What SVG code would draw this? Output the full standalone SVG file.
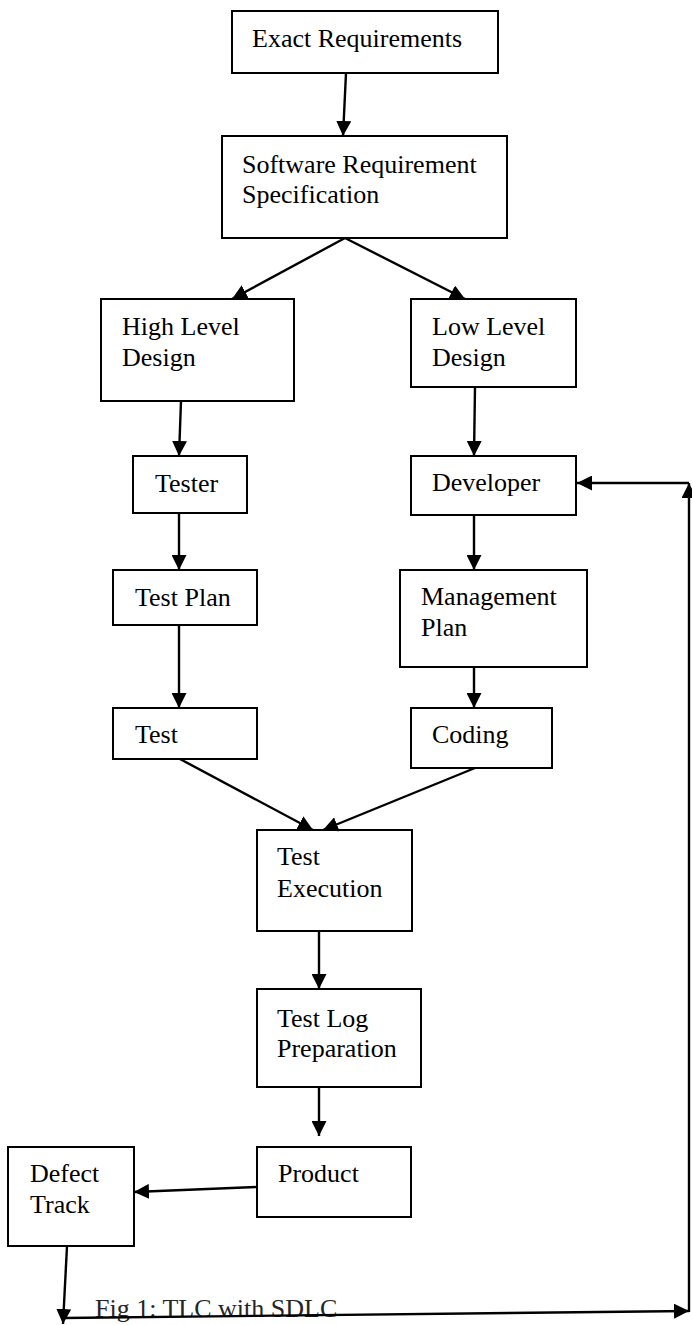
<svg xmlns="http://www.w3.org/2000/svg" width="692" height="1325" viewBox="0 0 692 1325">
  <defs>
    <style>
      .box { fill: #ffffff; stroke: #000000; stroke-width: 2; }
      .lbl { font-family: "Liberation Serif", "Times New Roman", serif; font-size: 26px; fill: #000000; }
      .cap { font-family: "Liberation Serif", "Times New Roman", serif; font-size: 26px; fill: #262626; }
      .edge { fill: none; stroke: #000000; stroke-width: 2.4; marker-end: url(#arrow); }
    </style>
    <marker id="arrow" viewBox="0 0 15 15" refX="15" refY="7.5" markerWidth="15" markerHeight="15" markerUnits="userSpaceOnUse" orient="auto">
      <path d="M0,0 L15,7.5 L0,15 z" fill="#000000"/>
    </marker>
  </defs>

  <rect width="692" height="1325" fill="#ffffff"/>

  <!-- process steps -->
  <g id="exact-requirements">
    <rect class="box" x="232" y="11" width="266" height="62"/>
    <text class="lbl" x="252" y="47">Exact Requirements</text>
  </g>
  <g id="srs">
    <rect class="box" x="222" y="136" width="285" height="102"/>
    <text class="lbl" x="242" y="173">Software Requirement</text>
    <text class="lbl" x="242" y="203">Specification</text>
  </g>
  <g id="high-level-design">
    <rect class="box" x="101" y="299" width="193" height="102"/>
    <text class="lbl" x="122" y="335">High Level</text>
    <text class="lbl" x="122" y="366">Design</text>
  </g>
  <g id="low-level-design">
    <rect class="box" x="411" y="299" width="165" height="88"/>
    <text class="lbl" x="432" y="335">Low Level</text>
    <text class="lbl" x="432" y="366">Design</text>
  </g>
  <g id="tester">
    <rect class="box" x="133" y="456" width="114" height="57"/>
    <text class="lbl" x="155" y="492">Tester</text>
  </g>
  <g id="developer">
    <rect class="box" x="411" y="456" width="165" height="59"/>
    <text class="lbl" x="432" y="491">Developer</text>
  </g>
  <g id="test-plan">
    <rect class="box" x="113" y="570" width="144" height="55"/>
    <text class="lbl" x="135" y="606">Test Plan</text>
  </g>
  <g id="management-plan">
    <rect class="box" x="400" y="570" width="187" height="97"/>
    <text class="lbl" x="421" y="605">Management</text>
    <text class="lbl" x="421" y="636">Plan</text>
  </g>
  <g id="test">
    <rect class="box" x="113" y="708" width="144" height="51"/>
    <text class="lbl" x="135" y="743">Test</text>
  </g>
  <g id="coding">
    <rect class="box" x="411" y="708" width="141" height="60"/>
    <text class="lbl" x="432" y="743">Coding</text>
  </g>
  <g id="test-execution">
    <rect class="box" x="257" y="830" width="155" height="101"/>
    <text class="lbl" x="277" y="865">Test</text>
    <text class="lbl" x="277" y="897">Execution</text>
  </g>
  <g id="test-log-preparation">
    <rect class="box" x="257" y="989" width="164" height="98"/>
    <text class="lbl" x="277" y="1027">Test Log</text>
    <text class="lbl" x="277" y="1057">Preparation</text>
  </g>
  <g id="product">
    <rect class="box" x="257" y="1147" width="154" height="70"/>
    <text class="lbl" x="278" y="1182">Product</text>
  </g>
  <g id="defect-track">
    <rect class="box" x="8" y="1147" width="126" height="99"/>
    <text class="lbl" x="30" y="1182">Defect</text>
    <text class="lbl" x="30" y="1213">Track</text>
  </g>

  <!-- caption -->
  <text class="cap" x="95" y="1317">Fig 1: TLC with SDLC</text>

  <!-- connectors -->
  <g id="connectors">
    <line class="edge" x1="346" y1="73" x2="343" y2="136"/>
    <line class="edge" x1="345" y1="238" x2="232" y2="299"/>
    <line class="edge" x1="345" y1="238" x2="465" y2="299"/>
    <line class="edge" x1="181" y1="401" x2="179" y2="456"/>
    <line class="edge" x1="475" y1="387" x2="474" y2="456"/>
    <line class="edge" x1="179" y1="513" x2="179" y2="570"/>
    <line class="edge" x1="474" y1="515" x2="474" y2="570"/>
    <line class="edge" x1="179" y1="625" x2="179" y2="708"/>
    <line class="edge" x1="474" y1="667" x2="474" y2="708"/>
    <line class="edge" x1="180" y1="759" x2="313" y2="830"/>
    <line class="edge" x1="475" y1="768" x2="323" y2="830"/>
    <line class="edge" x1="319" y1="931" x2="319" y2="989"/>
    <line class="edge" x1="319" y1="1087" x2="319" y2="1136"/>
    <line class="edge" x1="257" y1="1187" x2="134" y2="1192"/>
    <line class="edge" x1="67" y1="1246" x2="63" y2="1324"/>
    <line class="edge" x1="63" y1="1318" x2="689" y2="1311"/>
    <line class="edge" x1="689" y1="1312" x2="689" y2="483"/>
    <line class="edge" x1="689" y1="483" x2="577" y2="483"/>
  </g>
</svg>
